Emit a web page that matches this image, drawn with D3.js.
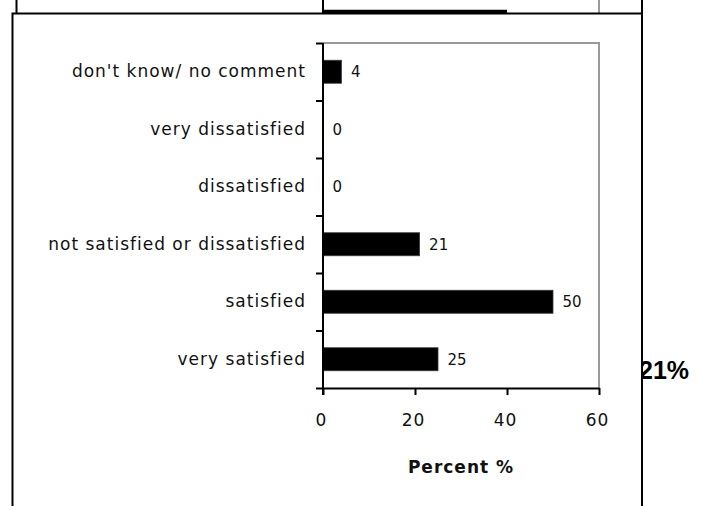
<!DOCTYPE html>
<html>
<head>
<meta charset="utf-8">
<script src="https://cdn.jsdelivr.net/npm/d3@7"></script>
<style>
  html, body { margin: 0; padding: 0; background: #fff; }
  svg { display: block; }
  text { font-family: "DejaVu Sans", sans-serif; fill: #111; }
</style>
</head>
<body>
<svg id="chart" width="707" height="506"></svg>
<script>
// Satisfaction survey responses (percent of respondents)
const categories = [
  "don't know/ no comment",
  "very dissatisfied",
  "dissatisfied",
  "not satisfied or dissatisfied",
  "satisfied",
  "very satisfied"
];
const percents = [4, 0, 0, 21, 50, 25];
const xTicks = [0, 20, 40, 60];
const axisTitle = "Percent %";

// Bottom row of the preceding panel, which sits partly above this one
const prevCategory = "very satisfied";
const prevPercent = 40;

// Side note to the right of the panel
const sideNote = "21%";

const svg = d3.select("#chart");

const plot = { left: 323, right: 599, top: 43, bottom: 388 };
const panelShift = 338; // vertical distance between stacked panels

const x = d3.scaleLinear().domain([0, 60]).range([plot.left, plot.right]);
const y = d3.scaleBand().domain(categories).range([plot.top, plot.bottom]).paddingInner(0).paddingOuter(0);
const barRatio = 0.4;
const barH = y.bandwidth() * barRatio;
// band edges, used for the category tick marks
const edges = d3.scaleLinear().domain([0, categories.length]).range([plot.top, plot.bottom]);

const labelStyle = sel => sel
  .style("font-size", "17px")
  .style("letter-spacing", "1px");

// ---------- preceding panel (mostly hidden behind this one) ----------
const prev = svg.append("g").attr("transform", `translate(0,${-panelShift})`);
prev.append("line")
  .attr("x1", 16.5).attr("x2", 16.5).attr("y1", 0).attr("y2", 400)
  .attr("stroke", "#000").attr("stroke-width", 2);
prev.append("line")
  .attr("x1", plot.right).attr("x2", plot.right).attr("y1", plot.top).attr("y2", plot.bottom)
  .attr("stroke", "#9a9a9a").attr("stroke-width", 2);
prev.append("line")
  .attr("x1", 642).attr("x2", 642).attr("y1", 0).attr("y2", 400)
  .attr("stroke", "#000").attr("stroke-width", 2);
prev.append("rect")
  .attr("x", x(0)).attr("y", y(prevCategory) + (y.bandwidth() - barH) / 2)
  .attr("width", x(prevPercent) - x(0)).attr("height", barH)
  .attr("fill", "#000");
prev.append("line")
  .attr("x1", plot.left).attr("x2", plot.left).attr("y1", plot.top).attr("y2", plot.bottom)
  .attr("stroke", "#000").attr("stroke-width", 2);
prev.append("text")
  .attr("x", 306).attr("y", y(prevCategory) + y.bandwidth() / 2).attr("dy", "0.32em")
  .attr("text-anchor", "end").text(prevCategory).call(labelStyle);
prev.append("text")
  .attr("x", x(prevPercent) + 9.5).attr("y", y(prevCategory) + y.bandwidth() / 2).attr("dy", "0.35em")
  .style("font-size", "15px").text(prevPercent);

// ---------- side note ----------
svg.append("text")
  .attr("x", 639).attr("y", 379)
  .style("font-family", "'Liberation Sans', Arial, sans-serif")
  .style("font-weight", "bold").style("font-size", "25px").style("fill", "#000")
  .text(sideNote);

// ---------- panel frame ----------
svg.append("rect")
  .attr("x", 12.5).attr("y", 13.5).attr("width", 629.5).attr("height", 520)
  .attr("fill", "#fff").attr("stroke", "#000").attr("stroke-width", 2);

// plot area border (top and right, grey)
svg.append("path")
  .attr("d", `M${plot.left},${plot.top}H${plot.right}V${plot.bottom}`)
  .attr("fill", "none").attr("stroke", "#9a9a9a").attr("stroke-width", 2);

// bars
svg.append("g").selectAll("rect")
  .data(categories.map((c, i) => ({ c, v: percents[i] })))
  .join("rect")
  .attr("x", x(0))
  .attr("y", d => y(d.c) + (y.bandwidth() - barH) / 2)
  .attr("width", d => x(d.v) - x(0))
  .attr("height", barH)
  .attr("fill", "#000")
  .attr("stroke", "#3a3a3a").attr("stroke-width", 0.8);

// value labels
svg.append("g").selectAll("text")
  .data(categories.map((c, i) => ({ c, v: percents[i] })))
  .join("text")
  .attr("x", d => x(d.v) + 9.5)
  .attr("y", d => y(d.c) + y.bandwidth() / 2)
  .attr("dy", "0.35em")
  .style("font-size", "15px")
  .text(d => d.v);

// category tick marks at band edges
const yAxis = svg.append("g")
  .attr("transform", `translate(${plot.left},0)`)
  .call(d3.axisLeft(edges).tickValues(d3.range(categories.length + 1)).tickSize(7).tickFormat(""));
yAxis.select(".domain").remove();
yAxis.selectAll(".tick line").attr("stroke", "#000").attr("stroke-width", 2);

// category labels
svg.append("g").selectAll("text")
  .data(categories)
  .join("text")
  .attr("x", 306)
  .attr("y", d => y(d) + y.bandwidth() / 2)
  .attr("dy", "0.32em")
  .attr("text-anchor", "end")
  .text(d => d)
  .call(labelStyle);

// x axis
const xAxis = svg.append("g")
  .attr("transform", `translate(0,${plot.bottom})`)
  .call(d3.axisBottom(x).tickValues(xTicks).tickSize(7).tickPadding(18.5).tickSizeOuter(0));
xAxis.select(".domain").attr("stroke", "#000").attr("stroke-width", 2);
xAxis.selectAll(".tick line").attr("stroke", "#000").attr("stroke-width", 2);
xAxis.selectAll(".tick text")
  .attr("dx", -2)
  .style("font-family", "'DejaVu Sans', sans-serif")
  .style("fill", "#111")
  .call(labelStyle);

// value axis line
svg.append("line")
  .attr("x1", plot.left).attr("x2", plot.left)
  .attr("y1", plot.top).attr("y2", plot.bottom + 7)
  .attr("stroke", "#000").attr("stroke-width", 2);

// axis title
svg.append("text")
  .attr("x", (plot.left + plot.right) / 2)
  .attr("y", 473)
  .attr("text-anchor", "middle")
  .style("font-weight", "bold")
  .text(axisTitle)
  .call(labelStyle);
</script>
</body>
</html>
